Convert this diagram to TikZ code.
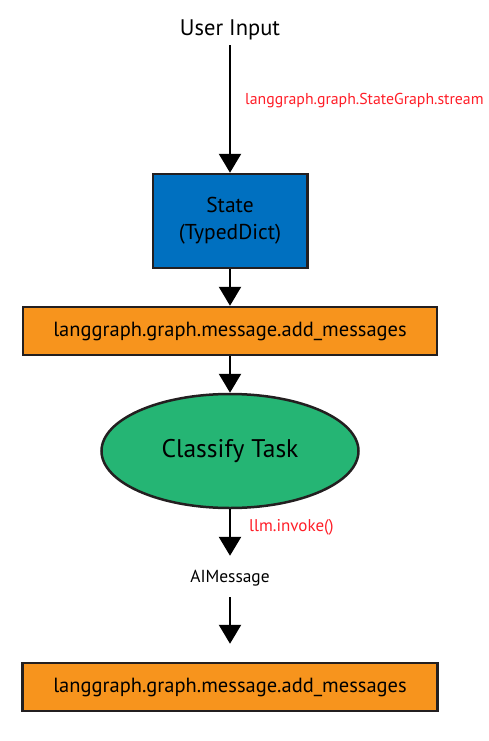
\documentclass[tikz,border=0pt]{standalone}
\usepackage{fontspec}
\setmainfont{PT Sans}
\usetikzlibrary{arrows.meta,shapes.geometric}

\definecolor{stateblue}{RGB}{0,112,192}
\definecolor{msgorange}{RGB}{247,148,29}
\definecolor{taskgreen}{RGB}{37,181,116}
\definecolor{callred}{RGB}{255,30,40}
\definecolor{edgeblack}{RGB}{35,31,32}

\begin{document}
\begin{tikzpicture}[x = 1pt, y = -1pt,
  box/.style = {draw = edgeblack, line width = 2.5pt, inner sep = 0pt, align = center},
  flow/.style = {-{Triangle[width = 22pt, length = 19pt]}, line width = 2.5pt},
  call/.style = {text = callred, anchor = west, inner sep = 0pt, font = \fontsize{15.8}{18}\selectfont}]

  \useasboundingbox (0, 0) rectangle (489, 741);

  \node[anchor = base, inner sep = 0pt, text depth = 4pt, font = \fontsize{22.5}{26}\selectfont] (input) at (230, 36) {User Input};

  \node[box, fill = stateblue, minimum width = 154.5pt, minimum height = 94pt, font = \fontsize{21.5}{27}\selectfont] (state) at (230, 221) {State\\(TypedDict)};

  \node[box, fill = msgorange, minimum width = 414pt, minimum height = 48pt, font = \fontsize{20.5}{24}\selectfont] (merge) at (230, 331) {langgraph.graph.message.add\_messages};

  \node[box, ellipse, fill = taskgreen, minimum width = 257pt, minimum height = 114pt, font = \fontsize{25.5}{30}\selectfont] (classify) at (230, 451) {Classify Task};

  \node[anchor = base, inner sep = 0pt, text height = 12pt, text depth = 3pt, font = \fontsize{17.4}{20}\selectfont] (aimsg) at (230, 582) {AIMessage};

  \node[box, fill = msgorange, minimum width = 415pt, minimum height = 48pt, font = \fontsize{20.5}{24}\selectfont] (merge2) at (230, 687) {langgraph.graph.message.add\_messages};

  \node[call] (streamcall) at (245, 101) {langgraph.graph.StateGraph.stream};
  \node[call, font = \fontsize{17}{20}\selectfont] (invokecall) at (249, 527) {llm.invoke()};

  \draw[flow, shorten <= 5pt] (input) -- (state);
  \draw[flow] (state) -- (merge);
  \draw[flow] (merge) -- (classify);
  \draw[flow, shorten >= 14pt] (classify) -- (aimsg);
  \draw[flow, shorten <= 12pt, shorten >= 18pt] (aimsg) -- (merge2);

\end{tikzpicture}
\end{document}
